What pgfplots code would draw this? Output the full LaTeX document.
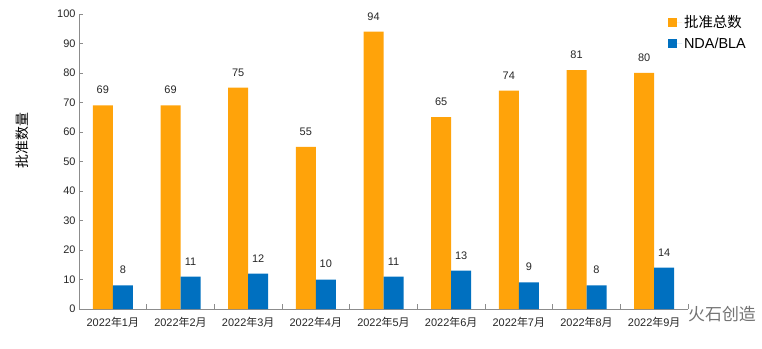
\documentclass[border=0pt]{standalone}
\usepackage{fontspec}
\setmainfont{Liberation Sans}
\newfontfamily\cjk{Noto Sans CJK SC}
\usepackage{pgfplots}
\pgfplotsset{compat=1.18}
\definecolor{cOr}{HTML}{FFA30A}
\definecolor{cBl}{HTML}{0070C0}
\definecolor{axg}{HTML}{8C8C8C}
\newcommand{\ym}[1]{2022{\cjk 年}#1{\cjk 月}}
\begin{document}
\begin{tikzpicture}[x=1bp,y=1bp]
\path[use as bounding box] (0,0) rectangle (762,348);
\begin{axis}[
  at={(79bp,39bp)}, anchor=south west,
  scale only axis, width=609bp, height=295bp,
  ybar, bar width=20bp,
  xmin=-0.5, xmax=8.5, ymin=0, ymax=100,
  xtick={0,...,8},
  xticklabels={\ym{1},\ym{2},\ym{3},\ym{4},\ym{5},\ym{6},\ym{7},\ym{8},\ym{9}},
  minor xtick={0.5,1.5,...,8.5},
  major x tick style={draw=none},
  minor tick length=5bp,
  ytick={0,10,...,100},
  major tick length=4bp,
  tick align=inside,
  axis x line*=bottom, axis y line*=left,
  axis line style={axg, line width=0.8pt},
  every tick/.style={axg, line width=0.8pt},
  tick label style={font=\fontsize{11}{13}\selectfont, text=black!85},
  xticklabel style={yshift=-5bp},
  /pgf/number format/assume math mode=true,
  ylabel={\cjk 批准数量},
  ylabel style={at={(axis description cs:-0.094,0.57)}, anchor=center, font=\fontsize{14}{16}\selectfont},
  nodes near coords,
  nodes near coords style={font=\fontsize{11}{13}\selectfont, text=black!85, yshift=8bp},
  legend style={at={(rel axis cs:0.962,1.01)}, anchor=north west, draw=none, fill=none,
    font=\fontsize{14.5}{16}\selectfont, row sep=5bp,
    legend cell align=left},
  legend image code/.code={\fill[#1] (0bp,-4.5bp) rectangle (9bp,4.5bp); \path (9bp,0) -- (14bp,0);},
]
\addplot[fill=cOr, draw=none, bar shift=-10bp] coordinates {(0,69) (1,69) (2,75) (3,55) (4,94) (5,65) (6,74) (7,81) (8,80)};
\addplot[fill=cBl, draw=none, bar shift=10bp] coordinates {(0,8) (1,11) (2,12) (3,10) (4,11) (5,13) (6,9) (7,8) (8,14)};
\legend{{\cjk 批准总数},NDA/BLA}
\end{axis}
\node[text=black!55, font=\cjk\fontsize{17}{19}\selectfont] at (722,34) {火石创造};
\end{tikzpicture}
\end{document}
